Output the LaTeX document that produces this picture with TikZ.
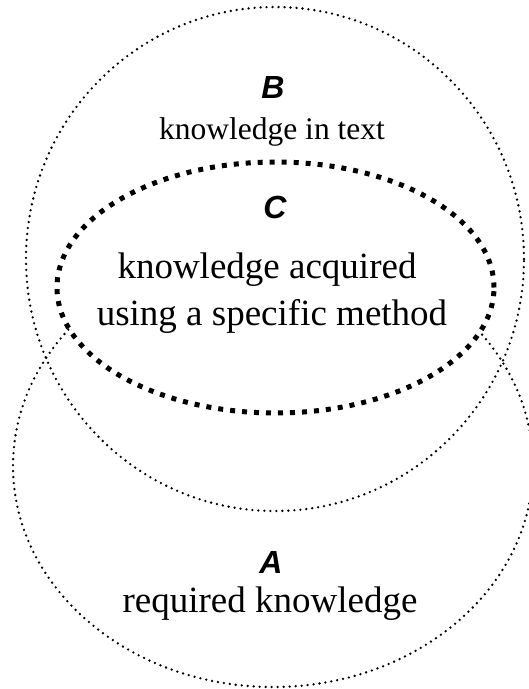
\documentclass[tikz,border=0pt]{standalone}
\usepackage{fontspec}
\setmainfont{Liberation Serif}
\newfontfamily\letterfont{Liberation Sans}
\begin{document}
\begin{tikzpicture}[x=1pt,y=-1pt,
  dotline/.style={line width=2.6pt, line cap=round, dash pattern=on 0pt off 6pt},
  thickdash/.style={line width=5pt, dash pattern=on 5pt off 7pt},
  setletter/.style={font=\letterfont\bfseries\itshape\fontsize{32}{32}\selectfont, anchor=base, inner sep=0pt},
  bigtext/.style={font=\fontsize{37}{44}\selectfont, anchor=base, inner sep=0pt},
  smalltext/.style={font=\fontsize{31.5}{38}\selectfont, anchor=base, inner sep=0pt}]
\useasboundingbox (0,0) rectangle (529,689);
% set A: required knowledge
\draw[dotline] (273,466) ellipse [x radius=260pt, y radius=221pt];
% set B: knowledge in text
\draw[dotline] (275,259) ellipse [x radius=249pt, y radius=252pt];
% set C: knowledge from a specific method (covers the top of A)
\draw[thickdash, fill=white] (275.5,287.5) ellipse [x radius=218.5pt, y radius=125.5pt];
% labels
\node[setletter] (Bl) at (273,98) {B};
\node[smalltext] (Bt) at (272,139) {knowledge in text};
\node[setletter] (Cl) at (275,218) {C};
\node[bigtext] (Ct1) at (267,278) {knowledge acquired};
\node[bigtext] (Ct2) at (272,325) {using a specific method};
\node[setletter] (Al) at (271,573) {A};
\node[bigtext] (At) at (270,612) {required knowledge};
\end{tikzpicture}
\end{document}
